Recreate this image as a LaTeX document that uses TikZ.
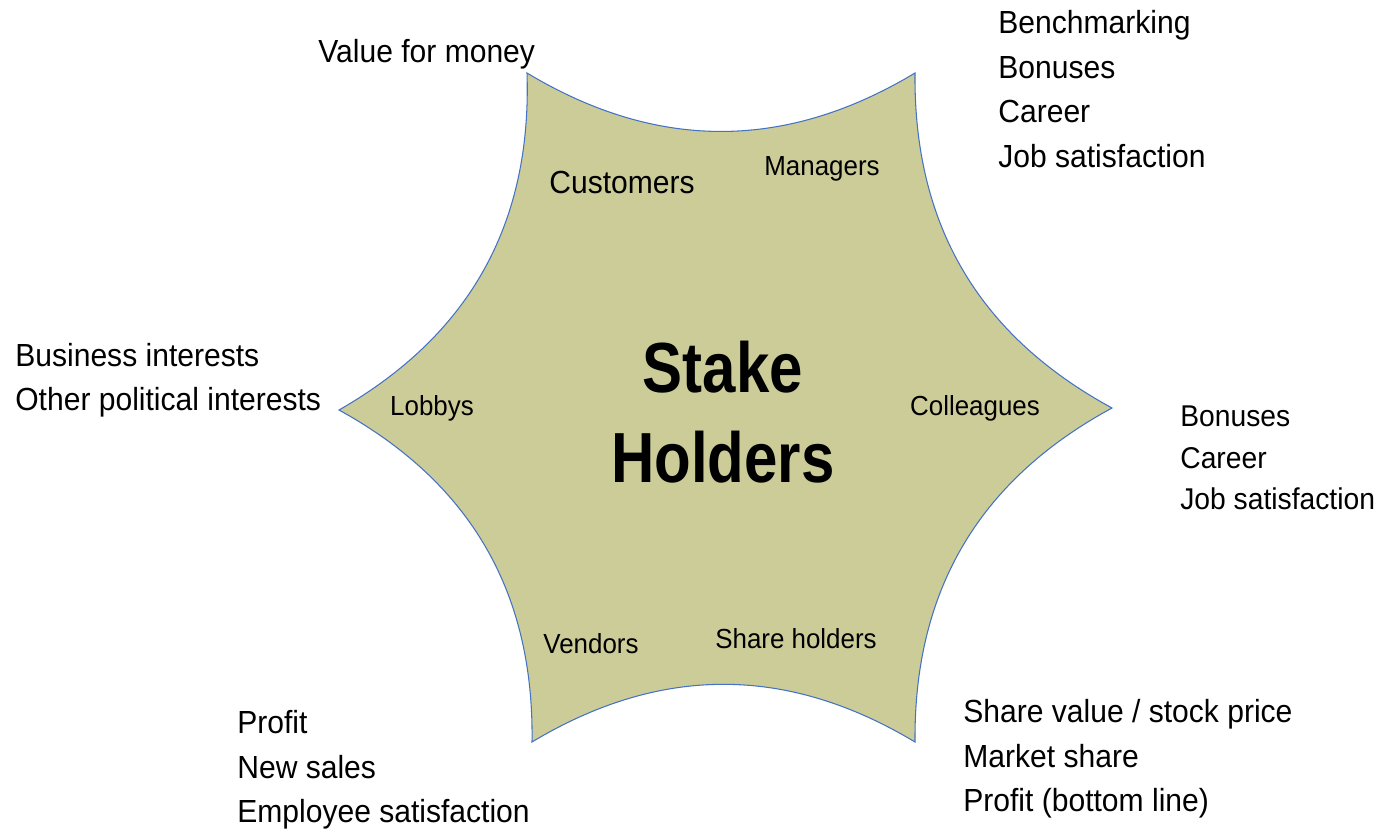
\documentclass[tikz,border=0pt]{standalone}
\usepackage{fontspec}
\setmainfont{Liberation Sans}
\newfontfamily\plainfont[FakeStretch=0.94]{Liberation Sans}
\newfontfamily\titlefont[FakeStretch=0.845]{Liberation Sans}
\usepackage{tikz}
\usetikzlibrary{positioning}
\definecolor{khaki}{RGB}{204,204,153}
\definecolor{edgeblue}{RGB}{68,114,196}
\tikzstyle{starfill} = [fill=khaki, draw=edgeblue, line width=0.6pt]
\tikzstyle{interest} = [anchor=west, align=left, inner sep=0pt,
                        font=\plainfont\fontsize{18.2}{25.3}\selectfont]

\begin{document}
\begin{tikzpicture}[
			x=0.02cm, y=-0.02cm,
			holder/.style={
					anchor=base,
					inner sep=0pt,
					font=\plainfont\fontsize{15.7}{19}\selectfont
				},
			bigholder/.style={holder, font=\plainfont\fontsize{18.2}{22}\selectfont}
		]
		\useasboundingbox (0,0) rectangle (1388,832);
		\coordinate (tl) at (527,73);
		\coordinate (tr) at (915,73);
		\coordinate (r) at (1112,408);
		\coordinate (br) at (915,742);
		\coordinate (bl) at (532,742);
		\coordinate (l) at (339,410);
		\draw[starfill] (tl) to[bend right=31] (tr) to[bend right=31] (r)
			to[bend right=31] (br) to[bend right=31] (bl)
			to[bend right=31] (l) to[bend right=31] (tl) -- cycle;
		\node[align=center, inner sep=0pt,
			font=\titlefont\bfseries\fontsize{40.4}{51.2}\selectfont] (title) at (723,412) {Stake\\Holders};
		\node[bigholder] (customers) at (622,193) {Customers};
		\node[holder] (managers) at (822,175) {Managers};
		\node[holder] (lobbys) at (432,415) {Lobbys};
		\node[holder] (colleagues) at (975,415) {Colleagues};
		\node[holder] (vendors) at (591,653) {Vendors};
		\node[holder] (shareholders) at (796,648) {Share holders};
		\node[interest] (money) at (318,54) {Value for money};
		\node[interest] (career) at (998,89) {Benchmarking\\Bonuses\\Career\\Job satisfaction};
		\node[interest] (politics) at (15,380) {Business interests\\Other political interests};
		\node[interest, font=\plainfont\fontsize{17.1}{23.7}\selectfont] (bonus) at (1180,458) {Bonuses\\Career\\Job satisfaction};
		\node[interest] (sales) at (237,770) {Profit\\New sales\\Employee satisfaction};
		\node[interest] (stock) at (963,759) {Share value / stock price\\Market share\\Profit (bottom line)};
	\end{tikzpicture}
\end{document}
